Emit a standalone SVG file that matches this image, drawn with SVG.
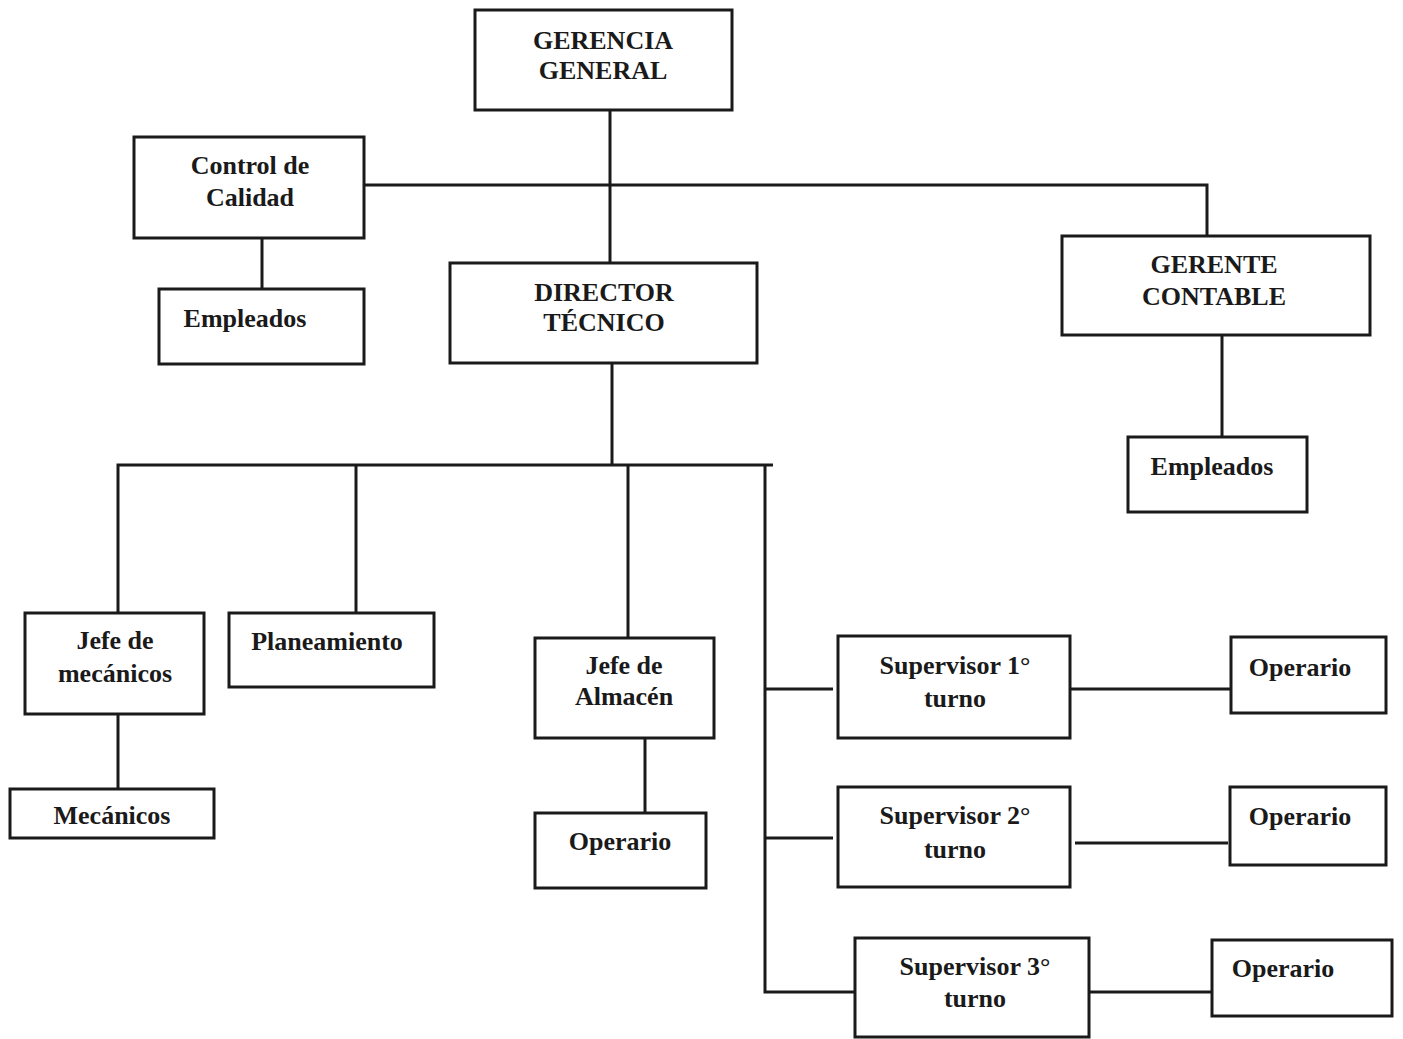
<svg xmlns="http://www.w3.org/2000/svg" width="1403" height="1039" viewBox="0 0 1403 1039">
<style>
.b{fill:#fff;stroke:#1a1a1a;stroke-width:3}
.t{font-family:"Liberation Serif","Times New Roman",serif;font-size:26px;font-weight:bold;fill:#1a1a1a;text-anchor:middle}
.c{fill:none;stroke:#1a1a1a;stroke-width:3}
</style>
<rect width="1403" height="1039" fill="#fff"/>
<g id="connectors">
<path class="c" d="M610 110V263"/>
<path class="c" d="M364 185H1207V236"/>
<path class="c" d="M262 238V289"/>
<path class="c" d="M1222 335V437"/>
<path class="c" d="M612 363V465"/>
<path class="c" d="M118 613V465H773"/>
<path class="c" d="M356 465V613"/>
<path class="c" d="M628 465V638"/>
<path class="c" d="M765 465V992H855"/>
<path class="c" d="M118 714V789"/>
<path class="c" d="M645 738V813"/>
<path class="c" d="M765 689H833"/>
<path class="c" d="M765 838H833"/>
<path class="c" d="M1070 689H1230"/>
<path class="c" d="M1075 843H1228"/>
<path class="c" d="M1089 992H1212"/>
</g>
<g id="gerencia"><rect class="b" x="475" y="10" width="257" height="100"/><text class="t" x="603" y="49">GERENCIA</text><text class="t" x="603" y="79">GENERAL</text></g>
<g id="control"><rect class="b" x="134" y="137" width="230" height="101"/><text class="t" x="250" y="174">Control de</text><text class="t" x="250" y="206">Calidad</text></g>
<g id="empleados1"><rect class="b" x="159" y="289" width="205" height="75"/><text class="t" x="245" y="327">Empleados</text></g>
<g id="director"><rect class="b" x="450" y="263" width="307" height="100"/><text class="t" x="604" y="301">DIRECTOR</text><text class="t" x="604" y="331">TÉCNICO</text></g>
<g id="gerente"><rect class="b" x="1062" y="236" width="308" height="99"/><text class="t" x="1214" y="273">GERENTE</text><text class="t" x="1214" y="305">CONTABLE</text></g>
<g id="empleados2"><rect class="b" x="1128" y="437" width="179" height="75"/><text class="t" x="1212" y="475">Empleados</text></g>
<g id="jefemec"><rect class="b" x="25" y="613" width="179" height="101"/><text class="t" x="115" y="649">Jefe de</text><text class="t" x="115" y="682">mecánicos</text></g>
<g id="planeamiento"><rect class="b" x="229" y="613" width="205" height="74"/><text class="t" x="327" y="650">Planeamiento</text></g>
<g id="mecanicos"><rect class="b" x="10" y="789" width="204" height="49"/><text class="t" x="112" y="824">Mecánicos</text></g>
<g id="jefealm"><rect class="b" x="535" y="638" width="179" height="100"/><text class="t" x="624" y="674">Jefe de</text><text class="t" x="624" y="705">Almacén</text></g>
<g id="operario0"><rect class="b" x="535" y="813" width="171" height="75"/><text class="t" x="620" y="850">Operario</text></g>
<g id="sup1"><rect class="b" x="838" y="636" width="232" height="102"/><text class="t" x="955" y="674">Supervisor 1°</text><text class="t" x="955" y="707">turno</text></g>
<g id="operario1"><rect class="b" x="1231" y="637" width="155" height="76"/><text class="t" x="1300" y="676">Operario</text></g>
<g id="sup2"><rect class="b" x="838" y="787" width="232" height="100"/><text class="t" x="955" y="824">Supervisor 2°</text><text class="t" x="955" y="858">turno</text></g>
<g id="operario2"><rect class="b" x="1230" y="787" width="156" height="78"/><text class="t" x="1300" y="825">Operario</text></g>
<g id="sup3"><rect class="b" x="855" y="938" width="234" height="99"/><text class="t" x="975" y="975">Supervisor 3°</text><text class="t" x="975" y="1007">turno</text></g>
<g id="operario3"><rect class="b" x="1212" y="940" width="180" height="76"/><text class="t" x="1283" y="977">Operario</text></g>
</svg>
